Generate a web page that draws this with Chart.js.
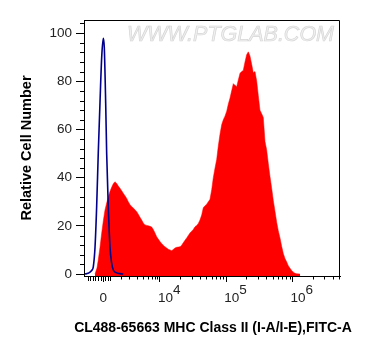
<!DOCTYPE html>
<html>
<head>
<meta charset="utf-8">
<script src="https://cdn.jsdelivr.net/npm/chart.js@4/dist/chart.umd.min.js"></script>
<style>
html,body{margin:0;padding:0;background:#fff;}
#wrap{width:374px;height:356px;position:relative;}
</style>
</head>
<body>
<div id="wrap"><canvas id="c" width="374" height="356"></canvas></div>
<script>
// ---- data (x in display decade units of the FITC-A axis, y = relative cell number) ----
const xTickValues = [3.145, 4, 5, 6];
const xTickBase = ['0', '10', '10', '10'];
const xTickExp = ['', '4', '5', '6'];
const xMinorTicks = [2.914, 2.952, 2.989, 3.027, 3.065, 3.103, 3.178, 3.216, 3.253,
  3.412, 3.540, 3.653, 3.748, 3.819, 3.875, 3.925, 3.962,
  4.301, 4.477, 4.602, 4.699, 4.778, 4.845, 4.903, 4.954,
  5.301, 5.477, 5.602, 5.699, 5.778, 5.845, 5.903, 5.954,
  6.301, 6.477, 6.602, 6.699];
const yTickValues = [0, 20, 40, 60, 80, 100];
const yMinorTicks = [4, 8, 12, 16, 24, 28, 32, 36, 44, 48, 52, 56, 64, 68, 72, 76, 84, 88, 92, 96, 104];

const redX = [3.020,3.050,3.069,3.095,3.121,3.145,3.170,3.196,3.220,3.246,
  3.271,3.296,3.321,3.347,3.371,3.397,3.422,3.446,3.472,3.498,
  3.522,3.548,3.573,3.597,3.623,3.649,3.673,3.698,3.724,3.748,
  3.774,3.799,3.824,3.849,3.875,3.899,3.925,3.950,3.974,4.000,
  4.025,4.050,4.075,4.101,4.125,4.151,4.176,4.200,4.226,4.252,
  4.276,4.302,4.327,4.351,4.377,4.403,4.427,4.452,4.478,4.502,
  4.528,4.554,4.578,4.603,4.629,4.653,4.679,4.704,4.729,4.754,
  4.780,4.804,4.830,4.855,4.879,4.905,4.931,4.955,4.980,5.006,
  5.030,5.056,5.081,5.106,5.131,5.157,5.181,5.207,5.232,5.256,
  5.282,5.307,5.332,5.357,5.383,5.407,5.433,5.459,5.483,5.508,
  5.534,5.558,5.584,5.609,5.633,5.659,5.685,5.709,5.735,5.760,
  5.784,5.810,5.835,5.860,5.885,5.911,5.935,5.961,5.986,6.011,
  6.036,6.062,6.112];
const redY = [0,2.5,5.8,11,17,22,26.5,29.5,32,34.3,
  36,37.5,38.3,37.6,36.5,35.6,34.6,33.5,32.5,31.4,
  30,28.8,28,27.4,26.7,25.9,24.8,23.6,22.4,21.2,
  20.4,20.2,20,19.8,19.5,18.5,17,15.5,14.5,13.5,
  12.7,12,11.3,10.8,10.3,10,9.7,10.2,10.8,11.1,
  11.2,11.3,12,13,14,15,16,17,17.8,18.5,
  19.6,20.2,21,22.4,24.5,27.5,28.3,29,30,31,
  35,40,44,47.5,53,58,62,64,65.5,67.5,
  70.5,73,76,79,78.3,77.7,80.5,83.3,84,84.5,
  88,91,92.2,90.5,87,83.5,84,80,74,68,
  66.5,65,55,51.5,46,40.5,35.5,30.5,26,21.5,
  18,15,11.5,8.5,6.5,5,3.5,2.4,1.5,0.8,
  0.3,0.1,0];

const blueX = [2.869,2.914,2.944,2.970,2.994,3.020,3.045,3.069,3.095,3.121,3.145,3.160,3.181,3.196,3.220,3.246,3.271,3.296,3.347,3.397,3.446];
const blueY = [0,0.3,0.8,1.5,3,11,28,50,71,90,97.8,94,71,50,28,11.3,4.5,1.7,0.5,0.2,0];

const xTitle = 'CL488-65663 MHC Class II (I-A/I-E),FITC-A';
const yTitle = 'Relative Cell Number';
const watermark = 'WWW.PTGLAB.COM';

const FONT = '"Liberation Sans", Arial, Helvetica, sans-serif';

const decor = {
  id: 'decor',
  beforeDatasetsDraw(chart) {
    const {ctx, chartArea: a} = chart;
    ctx.save();
    ctx.font = 'italic 21.5px ' + FONT;
    ctx.textAlign = 'left';
    ctx.textBaseline = 'middle';
    ctx.fillStyle = '#f0f0f0';
    ctx.strokeStyle = '#d6d6d6';
    ctx.lineWidth = 0.7;
    ctx.fillText(watermark, a.left + 43, a.top + 15);
    ctx.strokeText(watermark, a.left + 43, a.top + 15);
    ctx.restore();
  },
  afterDraw(chart) {
    const {ctx, chartArea: a, scales: {x, y}} = chart;
    ctx.save();
    ctx.strokeStyle = '#000';
    ctx.lineWidth = 1;
    // frame top & right
    ctx.beginPath();
    ctx.moveTo(a.left, a.top + 0.5);
    ctx.lineTo(a.right - 0.5, a.top + 0.5);
    ctx.lineTo(a.right - 0.5, a.bottom);
    ctx.stroke();
    // minor ticks
    ctx.beginPath();
    yMinorTicks.forEach(v => {
      const py = Math.round(y.getPixelForValue(v)) + 0.5;
      ctx.moveTo(a.left - 4, py); ctx.lineTo(a.left, py);
    });
    xMinorTicks.forEach(v => {
      const px = Math.round(x.getPixelForValue(v)) + 0.5;
      const len = v < 3.3 ? 5 : 3.5;
      ctx.moveTo(px, a.bottom); ctx.lineTo(px, a.bottom + len);
    });
    ctx.stroke();
    // x tick labels with superscripts
    ctx.font = '13.5px ' + FONT;
    ctx.fillStyle = '#222';
    ctx.textBaseline = 'middle';
    xTickValues.forEach((v, i) => {
      const px = x.getPixelForValue(v);
      const ly = a.bottom + 22;
      if (!xTickExp[i]) {
        ctx.textAlign = 'center';
        ctx.fillText(xTickBase[i], px, ly);
      } else {
        ctx.textAlign = 'left';
        const bx = px - 2;
        ctx.fillText(xTickBase[i], bx, ly);
        const w = ctx.measureText(xTickBase[i]).width;
        ctx.fillText(xTickExp[i], bx + w, ly - 8);
      }
    });
    // x axis title (drawn without width compression)
    ctx.font = 'bold 14px ' + FONT;
    ctx.fillStyle = '#000';
    ctx.textAlign = 'center';
    ctx.textBaseline = 'middle';
    ctx.fillText(xTitle, (a.left + a.right) / 2 + 1, a.bottom + 52);
    ctx.restore();
  }
};

new Chart(document.getElementById('c'), {
  type: 'line',
  data: {
    datasets: [
      {
        label: 'Isotype',
        data: blueX.map((v, i) => ({x: v, y: blueY[i]})),
        borderColor: '#00008b',
        borderWidth: 1.6,
        pointRadius: 0,
        fill: false,
        cubicInterpolationMode: 'monotone'
      },
      {
        label: 'CL488-65663',
        data: redX.map((v, i) => ({x: v, y: redY[i]})),
        borderColor: '#ff0000',
        borderWidth: 0.5,
        backgroundColor: '#ff0000',
        pointRadius: 0,
        fill: 'start',
        tension: 0
      }
    ]
  },
  options: {
    responsive: false,
    animation: false,
    events: [],
    layout: {padding: {left: 0, right: 34, top: 20, bottom: 0}},
    plugins: {legend: {display: false}, tooltip: {enabled: false}},
    scales: {
      x: {
        type: 'linear',
        min: 2.854,
        max: 6.715,
        afterBuildTicks(s) { s.ticks = xTickValues.map(v => ({value: v})); },
        afterFit(s) { s.height = 80; },
        ticks: {autoSkip: false, callback: () => '', font: {size: 13, family: FONT}},
        grid: {drawOnChartArea: false, drawTicks: true, tickLength: 6, color: '#000', tickColor: '#000'},
        border: {display: true, color: '#000', width: 1},
        title: {display: false}
      },
      y: {
        type: 'linear',
        min: -0.8,
        max: 105.4,
        afterBuildTicks(s) { s.ticks = yTickValues.map(v => ({value: v})); },
        afterFit(s) { s.width = 84; },
        ticks: {autoSkip: false, color: '#222', padding: 4, font: {size: 13.5, family: FONT}},
        grid: {drawOnChartArea: false, drawTicks: true, tickLength: 8, color: '#000', tickColor: '#000'},
        border: {display: true, color: '#000', width: 1},
        title: {display: true, text: yTitle, color: '#000', font: {size: 14.5, weight: 'bold', family: FONT}, padding: {top: 18.3, bottom: 0}}
      }
    }
  },
  plugins: [decor]
});
</script>
</body>
</html>
